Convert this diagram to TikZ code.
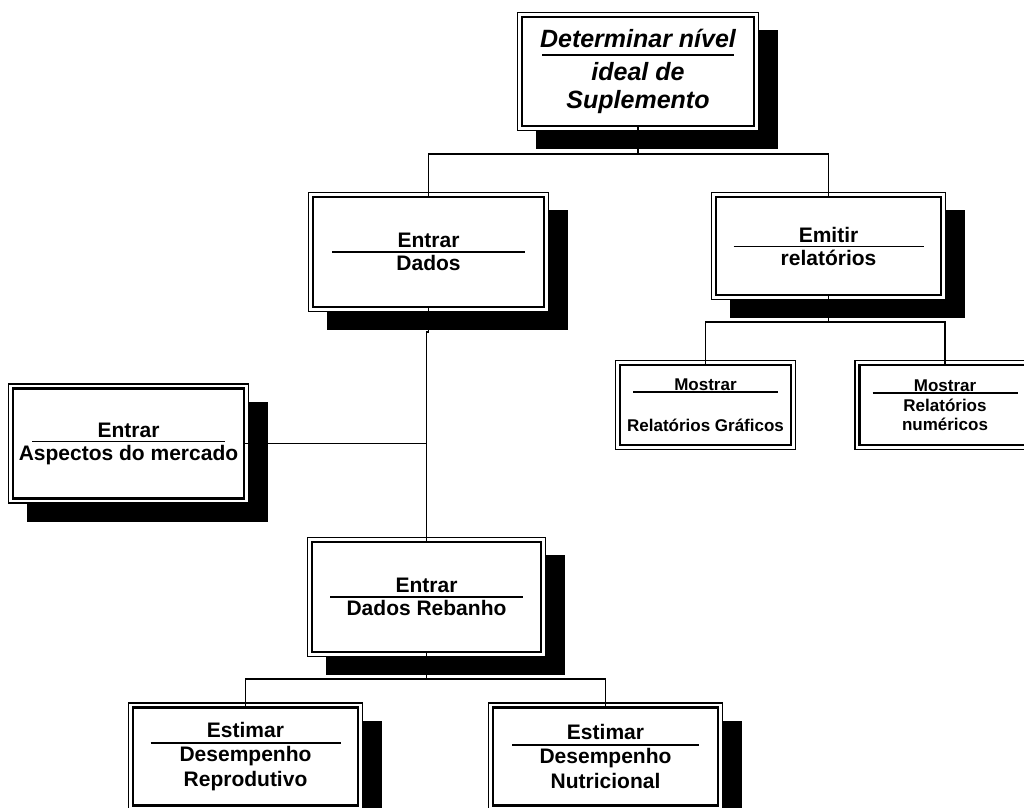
\documentclass[tikz,border=0pt]{standalone}
\usepackage{fontspec}
\setmainfont{Liberation Sans}
\usetikzlibrary{backgrounds}
\tikzstyle{caixa}=[draw=black,line width=2.4pt,fill=white,align=center,inner sep=0pt,outer sep=0pt,minimum width=231pt,minimum height=110pt,font={\fontsize{21}{25}\selectfont\bfseries\lineskiplimit=-100pt}]
\tikzstyle{titulo}=[caixa,minimum width=232pt,minimum height=109pt,font={\fontsize{25}{28}\selectfont\bfseries\itshape\lineskiplimit=-100pt}]
\tikzstyle{menor}=[caixa,minimum width=171pt,minimum height=80pt,font={\fontsize{17}{20}\selectfont\bfseries\lineskiplimit=-100pt}]
\tikzstyle{borda}=[draw=black,line width=1.4pt,fill=white]
\tikzstyle{sombra}=[fill=black]
\tikzstyle{liga}=[line width=1.5pt]
\newcommand{\filete}[2][-20pt]{\\[#1]\rule{#2pt}{1.3pt}\\[-7pt]}

\begin{document}
\begin{tikzpicture}[x=1pt,y=-1pt]
\useasboundingbox (0,0) rectangle (1024,807);
% caixas
\node[titulo] (det) at (638,71.5) {Determinar nível\\[-19.5pt]\rule{192pt}{1.5pt}\\[-3pt]ideal de\\Suplemento};
\node[caixa] (dados) at (428.5,252) {Entrar\filete{193}Dados};
\node[caixa,minimum width=225pt,minimum height=98pt] (emitir) at (828.5,246) {Emitir\filete{190}relatórios};
\node[caixa] (mercado) at (128.5,443.5) {Entrar\filete{193}Aspectos do mercado};
\node[caixa,minimum width=229pt] (rebanho) at (426.5,597) {Entrar\filete{193}Dados Rebanho};
\node[menor] (graficos) at (705.5,405) {Mostrar\\[-17.5pt]\rule{145pt}{1.3pt}\\[18.5pt]Relatórios Gráficos};
\node[menor] (numericos) at (945,405) {Mostrar\\[-17.5pt]\rule{145pt}{1.3pt}\\[-2.5pt]Relatórios\\[-1pt]numéricos};
\node[caixa,minimum width=225pt,minimum height=98pt] (reprod) at (245.5,756.5) {Estimar\filete[-18.5pt]{190}Desempenho\\[0pt]Reprodutivo};
\node[caixa,minimum width=225pt,minimum height=98pt] (nutri) at (605.5,756.5) {Estimar\filete[-18.5pt]{187}Desempenho\\[0pt]Nutricional};
% sombras e bordas
\begin{pgfonlayer}{background}
\foreach \n in {det,dados,emitir,mercado,rebanho,reprod,nutri}
  \fill[sombra] ([shift={(14,13)}]\n.north west) rectangle ([shift={(24,23)}]\n.south east);
\foreach \n in {det,dados,emitir,mercado,rebanho,graficos,numericos,reprod,nutri}
  \draw[borda] ([shift={(-4.5,-4.5)}]\n.north west) rectangle ([shift={(4.5,4.5)}]\n.south east);
\end{pgfonlayer}
% ligacoes
\coordinate (j1) at (638,154);
\coordinate (j2) at (828.5,322);
\coordinate (j3) at (426.5,679);
\draw[liga] (det.south) -- (j1);
\draw[liga] (dados.north) |- (j1) -| (emitir.north);
\draw[liga] (emitir.south) -- (j2);
\draw[liga] (graficos.north) |- (j2) -| (numericos.north);
\draw[liga] (dados.south) -- ++(0,25) -| (rebanho.north);
\draw[liga] (mercado.east) -- (mercado.east -| rebanho.north);
\draw[liga] (rebanho.south) -- (j3);
\draw[liga] (reprod.north) |- (j3) -| (nutri.north);
\end{tikzpicture}
\end{document}
